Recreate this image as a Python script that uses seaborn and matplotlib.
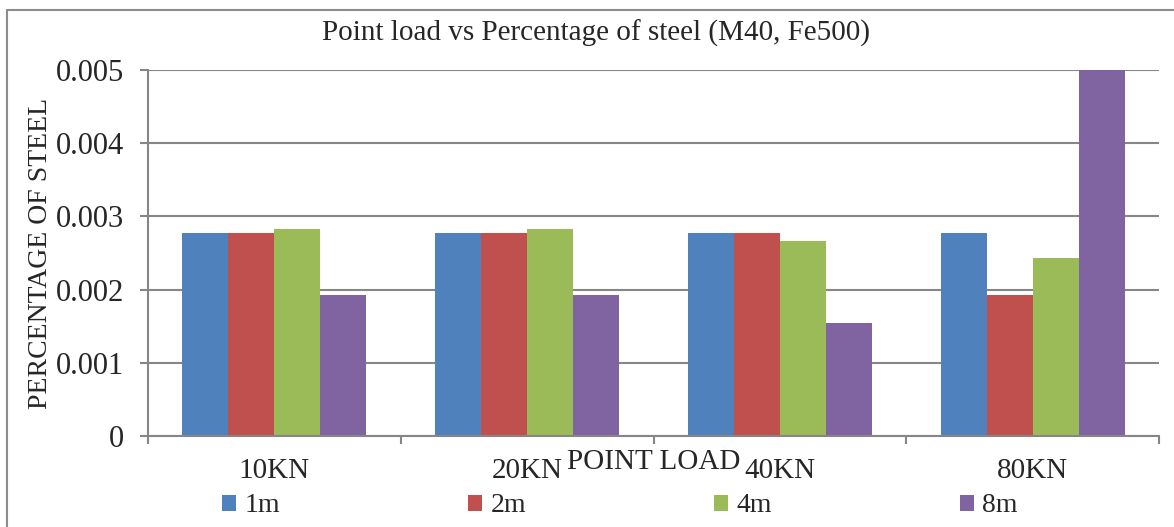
import numpy as np
import pandas as pd
import matplotlib
matplotlib.use('Agg')
import matplotlib.pyplot as plt
import seaborn as sns
from matplotlib.lines import Line2D
from matplotlib.patches import Patch

# chart data
loads = ['10KN', '20KN', '40KN', '80KN']
spans = ['1m', '2m', '4m', '8m']
steel_1m = [0.00278, 0.00278, 0.00278, 0.00278]
steel_2m = [0.00278, 0.00278, 0.00278, 0.00192]
steel_4m = [0.00283, 0.00283, 0.00267, 0.00243]
steel_8m = [0.00192, 0.00192, 0.00155, 0.00500]
colors = ['#4F81BD', '#C0504D', '#9BBB59', '#8064A2']

df = pd.DataFrame({
    'load': loads * 4,
    'span': np.repeat(spans, 4),
    'steel': steel_1m + steel_2m + steel_4m + steel_8m,
})

sns.set_style('white')
plt.rcParams['font.family'] = ['Liberation Serif', 'DejaVu Serif']

W, H = 1174, 527
fig = plt.figure(figsize=(W / 100, H / 100), dpi=100)
ax = fig.add_axes([148 / W, 1 - 436 / H, (1159 - 148) / W, (436 - 70) / H])

sns.barplot(data=df, x='load', y='steel', hue='span', palette=colors,
            width=0.728, saturation=1, legend=False, ax=ax, linewidth=0)

grid_c = '#868686'
ax.set_ylim(0, 0.005)
ax.set_xlim(-0.5, 3.5)
ax.set_yticks([0, 0.001, 0.002, 0.003, 0.004, 0.005])
ax.set_yticklabels(['0', '0.001', '0.002', '0.003', '0.004', '0.005'])
ax.yaxis.grid(True, color=grid_c, linewidth=1.5)
ax.set_axisbelow(True)
for s in ['top', 'right']:
    ax.spines[s].set_visible(False)
for s in ['left', 'bottom']:
    ax.spines[s].set_color(grid_c)
    ax.spines[s].set_linewidth(1.5)

ax.tick_params(axis='y', direction='out', length=6, width=1.5, color=grid_c,
               labelsize=22, pad=11, left=True)
ax.tick_params(axis='x', which='major', length=0, labelsize=21, pad=16)
ax.set_xticks(np.arange(-0.5, 4.0, 1.0), minor=True)
ax.tick_params(axis='x', which='minor', direction='out', length=6, width=1.5,
               color=grid_c, bottom=True)

ax.set_xlabel('POINT LOAD', fontsize=21)
ax.xaxis.set_label_coords(0.5, -0.036)
ax.set_ylabel('PERCENTAGE OF STEEL', fontsize=20)
ax.yaxis.set_label_coords(-0.094, 0.5)

fig.text(596 / W, 1 - 33 / H, 'Point load vs Percentage of steel (M40, Fe500)',
         ha='center', va='center', fontsize=21)

handles = [Patch(facecolor=c, edgecolor='none') for c in colors]
fig.legend(handles, spans, loc='center', bbox_to_anchor=(620 / W, 1 - 506 / H),
           ncol=4, frameon=False, fontsize=20, handlelength=0.5, handleheight=0.5,
           handletextpad=0.32, columnspacing=6.75, borderpad=0)

# outer chart border
fig.add_artist(Line2D([7 / W, 7 / W], [0, 1 - 10 / H], color='#8c8c8c', lw=1.5))
fig.add_artist(Line2D([7 / W, 1], [1 - 10 / H, 1 - 10 / H], color='#8c8c8c', lw=1.5))

fig.savefig('out.png', dpi=100)
